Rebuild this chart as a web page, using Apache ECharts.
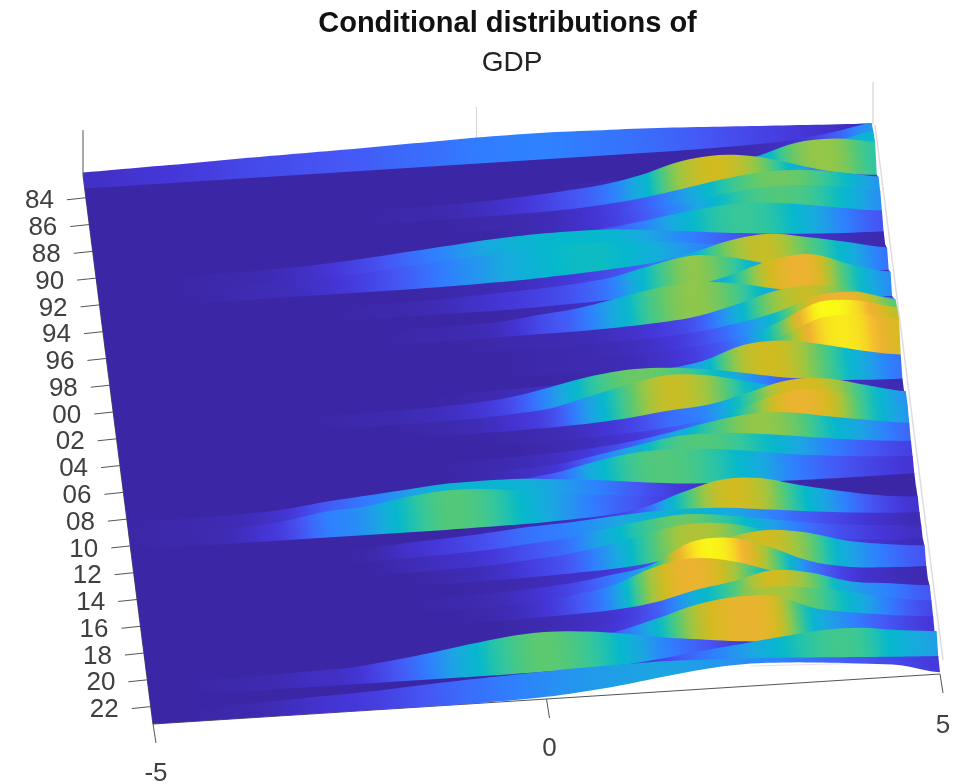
<!DOCTYPE html>
<html><head><meta charset="utf-8">
<style>html,body{margin:0;padding:0;background:#fff}#c{width:953px;height:784px}</style>
<script src="https://cdn.jsdelivr.net/npm/echarts@6/dist/echarts.min.js"></script>
</head><body><div id="c"></div>
<script>
const xGrid=[-5,-4.5,-4,-3.5,-3,-2.5,-2,-1.5,-1,-0.5,0,0.5,1,1.5,2,2.5,3,3.5,4,4.5,5];
const xTicks=[-5,0,5];
const yearTicks=[84,86,88,90,92,94,96,98,0,2,4,6,8,10,12,14,16,18,20,22];
const tickYears=[1984,1986,1988,1990,1992,1994,1996,1998,2000,2002,2004,2006,2008,2010,2012,2014,2016,2018,2020,2022];
const rowYears=[1982,1983,1984,1985,1986,1987,1988,1989,1990,1991,1992,1993,1994,1995,1996,1997,1998,1999,2000,2001,2002,2003,2004,2005,2006,2007,2008,2009,2010,2011,2012,2013,2014,2015,2016,2017,2018,2019,2020,2021,2022,2023];
const z1982=[.06,.08,.10,.12,.15,.17,.19,.21,.24,.26,.29,.30,.30,.28,.26,.23,.19,.15,.11,.07,.04];
const z1983=[0,0,0,0,0,0,0,0,0,0,0,0,0,0,0,0,.01,.03,.08,.20,.36];
const z1984=[0,0,0,0,0,0,0,0,0,0,0,0,0,0,0,0,.02,.05,.14,.30,.48];
const z1985=[0,0,0,0,0,0,0,0,0,0,0,0,0,.02,.04,.09,.18,.38,.64,.68,.55];
const z1986=[0,0,0,0,0,0,0,0,.01,.02,.05,.10,.17,.26,.43,.69,.78,.68,.43,.20,.09];
const z1987=[0,0,0,0,0,0,0,0,0,0,.01,.02,.05,.11,.21,.36,.52,.63,.63,.52,.36];
const z1988=[0,0,0,0,0,0,0,0,0,0,0,.02,.05,.11,.20,.34,.49,.59,.59,.49,.34];
const z1989=[0,0,0,0,0,0,0,0,0,0,.02,.05,.10,.19,.31,.45,.55,.55,.45,.31,.19];
const z1990=[0,0,0,.01,.02,.05,.10,.17,.25,.33,.41,.46,.48,.47,.40,.31,.22,.14,.08,.04,.02];
const z1991=[0,0,0,.01,.03,.05,.09,.15,.23,.31,.38,.45,.49,.49,.44,.35,.25,.16,.09,.05,.02];
const z1992=[0,0,0,0,0,0,0,0,0,.01,.03,.06,.11,.17,.25,.42,.66,.76,.62,.45,.27];
const z1993=[0,0,0,0,0,0,0,.01,.02,.05,.09,.13,.19,.30,.52,.68,.58,.36,.20,.11,.06];
const z1994=[0,0,0,0,0,0,0,0,0,0,0,.02,.05,.09,.16,.28,.50,.78,.85,.55,.33];
const z1995=[0,0,0,0,0,0,0,0,.01,.02,.05,.15,.25,.42,.60,.68,.60,.42,.25,.13,.07];
const z1996=[0,0,0,0,0,0,0,0,0,0,.01,.02,.03,.06,.11,.20,.42,.68,.76,.58,.34];
const z1997=[0,0,0,0,0,0,0,0,0,0,0,.01,.02,.04,.08,.16,.30,.50,.82,.85,.62];
const z1998=[0,0,0,0,0,0,0,0,0,0,0,.01,.02,.03,.07,.14,.28,.58,.98,.96,.75];
const z1999=[0,0,0,0,0,0,0,0,0,0,0,0,.01,.03,.06,.12,.25,.55,.92,.96,.80];
const z2000=[0,0,0,0,0,0,0,0,0,.01,.03,.06,.10,.17,.27,.42,.72,.77,.62,.42,.27];
const z2001=[0,0,0,0,0,0,.01,.02,.04,.08,.16,.33,.52,.63,.62,.53,.38,.22,.11,.05,.02];
const z2002=[0,0,0,0,0,0,0,0,.01,.03,.08,.16,.38,.60,.76,.70,.50,.30,.18,.09,.05];
const z2003=[0,0,0,0,0,0,0,0,0,0,.01,.03,.07,.14,.25,.33,.55,.78,.76,.55,.35];
const z2004=[0,0,0,0,0,0,0,0,0,0,0,.02,.05,.10,.18,.32,.58,.84,.80,.55,.36];
const z2005=[0,0,0,0,0,0,0,0,0,.01,.03,.06,.12,.22,.38,.56,.68,.65,.50,.36,.24];
const z2006=[0,0,0,0,0,0,0,0,0,.01,.05,.10,.26,.42,.58,.60,.53,.42,.30,.20,.13];
const z2007=[0,0,0,0,0,0,0,0,.01,.04,.12,.24,.44,.58,.60,.54,.43,.30,.21,.14,.09];
const z2008=[0,.01,.02,.04,.09,.20,.28,.36,.44,.46,.45,.38,.30,.20,.11,.06,.03,.01,0,0,0];
const z2009=[0,.01,.02,.06,.14,.29,.35,.50,.60,.58,.48,.37,.27,.18,.10,.05,.02,.01,0,0,0];
const z2010=[0,0,0,0,0,0,0,0,0,.01,.02,.05,.10,.22,.52,.76,.74,.52,.33,.17,.08];
const z2011=[0,0,0,0,0,0,.01,.07,.12,.18,.26,.30,.37,.43,.45,.42,.33,.23,.14,.07,.03];
const z2012=[0,0,0,0,0,0,0,.03,.06,.10,.18,.26,.42,.56,.64,.56,.42,.28,.17,.10,.05];
const z2013=[0,0,0,0,0,0,0,0,.02,.05,.12,.20,.36,.56,.72,.68,.48,.28,.15,.07,.03];
const z2014=[0,0,0,0,0,0,0,0,0,.01,.03,.06,.10,.18,.38,.66,.78,.66,.42,.28,.19];
const z2015=[0,0,0,0,0,0,0,0,.01,.03,.08,.15,.28,.45,.92,.97,.70,.32,.12,.05,.02];
const z2016=[0,0,0,0,0,0,0,0,0,.02,.07,.18,.35,.70,.86,.74,.46,.22,.10,.05,.02];
const z2017=[0,0,0,0,0,0,0,0,0,0,.02,.05,.09,.20,.42,.58,.78,.66,.40,.30,.20];
const z2018=[0,0,0,0,0,0,0,0,0,0,.02,.05,.10,.20,.35,.60,.72,.62,.46,.28,.15];
const z2019=[0,0,0,0,0,0,0,0,0,.01,.03,.07,.22,.46,.72,.84,.80,.46,.30,.18,.10];
const z2020=[0,0,.01,.02,.05,.07,.16,.28,.42,.55,.62,.58,.48,.33,.22,.12,.06,.03,.01,0,0];
const z2021=[0,0,0,0,0,0,0,0,0,0,.01,.02,.05,.14,.26,.36,.47,.56,.57,.46,.38];
const z2022=[0,0,.01,.03,.07,.10,.14,.20,.25,.29,.33,.36,.38,.39,.37,.34,.30,.25,.20,.15,.11];
const z2023=[0,0,0,0,0,0,0,0,0,.02,.05,.12,.22,.35,.46,.52,.50,.44,.36,.26,.04];
const rows=[z1982,z1983,z1984,z1985,z1986,z1987,z1988,z1989,z1990,z1991,z1992,z1993,z1994,z1995,z1996,z1997,z1998,z1999,z2000,z2001,z2002,z2003,z2004,z2005,z2006,z2007,z2008,z2009,z2010,z2011,z2012,z2013,z2014,z2015,z2016,z2017,z2018,z2019,z2020,z2021,z2022,z2023];

const palette=[[0,'#3b27a6'],[.10,'#4536d8'],[.20,'#4557f5'],[.30,'#2f80ff'],[.40,'#1aa8e0'],[.48,'#05b8cc'],[.55,'#30c6a0'],[.62,'#5cc970'],[.70,'#a0c640'],[.78,'#d2bb20'],[.88,'#f3b035'],[1,'#fafa15']];
function hex(c){return [parseInt(c.slice(1,3),16),parseInt(c.slice(3,5),16),parseInt(c.slice(5,7),16)];}
function colorOf(z){
  z=Math.max(0,Math.min(1,z));
  for(let i=1;i<palette.length;i++){
    if(z<=palette[i][0]){
      const a=palette[i-1],b=palette[i],f=(z-a[0])/(b[0]-a[0]),ca=hex(a[1]),cb=hex(b[1]);
      return 'rgb('+ca.map((v,k)=>Math.round(v+(cb[k]-v)*f)).join(',')+')';
    }
  }
  return palette[palette.length-1][1];
}
const G={left:83,top:175,width:787,height:549};
const OFFSET=0.3, SHX=70/G.height, SHY=50/G.width, ZPX=43, SUB=5;
function project(api,x,t,z){
  const p=api.coord([x,t]);
  return [p[0]+(p[1]-G.top)*SHX, p[1]-(p[0]-G.left)*SHY-z*ZPX];
}
function smooth(arr){
  const out=[];
  for(let i=0;i<arr.length-1;i++){
    const p0=arr[Math.max(0,i-1)],p1=arr[i],p2=arr[i+1],p3=arr[Math.min(arr.length-1,i+2)];
    for(let s=0;s<SUB;s++){
      const u=s/SUB;
      const v=0.5*(2*p1+(p2-p0)*u+(2*p0-5*p1+4*p2-p3)*u*u+(3*p1-p0-3*p2+p3)*u*u*u);
      out.push(Math.max(0,v));
    }
  }
  out.push(arr[arr.length-1]);
  return out;
}
function fineX(){const o=[];for(let i=0;i<xGrid.length-1;i++)for(let s=0;s<SUB;s++)o.push(xGrid[i]+(xGrid[i+1]-xGrid[i])*s/SUB);o.push(xGrid[xGrid.length-1]);return o;}
const fx=fineX();
function renderRow(params,api){
  const i=api.value(1), t0=rowYears[i]+OFFSET, t1=rowYears[i+1]+OFFSET;
  const a=smooth(rows[i]), b=smooth(rows[i+1]);
  const overlap=i<rows.length-2?1.2:0;
  const pts=[];
  fx.forEach((x,k)=>pts.push(project(api,x,t0,a[k])));
  for(let k=fx.length-1;k>=0;k--){const q=project(api,fx[k],t1,b[k]);pts.push([q[0],q[1]+overlap]);}
  const P0=project(api,-5,t0,0);
  const n=Math.sqrt(1+SHX*SHX);
  const L=(G.width+SHY*G.width*SHX)/n;
  const stops=fx.map((x,k)=>({offset:k/(fx.length-1),color:colorOf(a[k])}));
  const fill=new echarts.graphic.LinearGradient(P0[0],P0[1],P0[0]+L/n,P0[1]-SHX*L/n,stops,true);
  return {type:'polygon',shape:{points:pts},style:{fill:fill}};
}
function renderFrame(params,api){
  const tMin=rowYears[0]+OFFSET,tMax=rowYears[rowYears.length-1]+OFFSET;
  const A=project(api,-5,tMin,0),B=project(api,-5,tMax,0),C=project(api,5,tMax,0),D=project(api,5,tMin,0),E=project(api,0,tMin,0);
  const ch=[];
  const ln=(x1,y1,x2,y2,c,w)=>ch.push({type:'line',shape:{x1,y1,x2,y2},style:{stroke:c,lineWidth:w||1}});
  ln(D[0]+3,82,D[0]+3,D[1],'#dddddd',1.5);
  ln(D[0]+5,D[1],C[0]+3,C[1]-14,'#dddddd',1.5);
  ln(E[0],107,E[0],E[1],'#d4d4d4',1);
  ln(C[0]-190,C[1]-8,C[0]-30,C[1]-12,'#e3e3e3',1);
  ln(A[0],130,A[0],A[1],'#555555',1);
  ln(A[0],A[1],B[0],B[1],'#555555',1.2);
  ln(B[0],B[1],C[0],C[1],'#555555',1.2);
  xTicks.forEach(x=>{
    const p=project(api,x,tMax,0);
    ln(p[0],p[1],p[0]+3,p[1]+19,'#555555',1);
    ch.push({type:'text',style:{text:String(x),x:p[0]+3,y:p[1]+(x===5?52:50),align:'center',verticalAlign:'middle',font:'26px "Liberation Sans"',fill:'#404040'}});
  });
  tickYears.forEach((y,j)=>{
    const p=project(api,-5,y,0);
    ln(p[0]-19,p[1]+2,p[0],p[1],'#555555',1);
    ch.push({type:'text',style:{text:String(yearTicks[j]).padStart(2,'0'),x:p[0]-32,y:p[1]+3.5,align:'right',verticalAlign:'middle',font:'26px "Liberation Sans"',fill:'#404040'}});
  });
  return {type:'group',children:ch};
}
const chart=echarts.init(document.getElementById('c'),null,{renderer:'canvas'});
chart.setOption({
  animation:false,
  backgroundColor:'#ffffff',
  title:[
    {text:'Conditional distributions of',left:502.5,top:4,textAlign:'center',textStyle:{fontFamily:'Liberation Sans',fontSize:29,fontWeight:'bold',color:'#111111'}},
    {text:'GDP',left:507,top:44,textAlign:'center',textStyle:{fontFamily:'Liberation Sans',fontSize:28,fontWeight:'normal',color:'#222222'}}
  ],
  grid:{left:G.left,top:G.top,width:G.width,height:G.height,show:false},
  xAxis:{type:'value',min:-5,max:5,show:false},
  yAxis:{type:'value',min:rowYears[0]+OFFSET,max:rowYears[rowYears.length-1]+OFFSET,inverse:true,show:false},
  series:[
    {type:'custom',coordinateSystem:'cartesian2d',clip:false,silent:true,data:[[0,1984]],renderItem:renderFrame,z:1},
    {type:'custom',coordinateSystem:'cartesian2d',clip:false,silent:true,data:rowYears.slice(0,-1).map((y,i)=>[y+OFFSET,i]),renderItem:renderRow,z:2}
  ]
});
</script></body></html>
